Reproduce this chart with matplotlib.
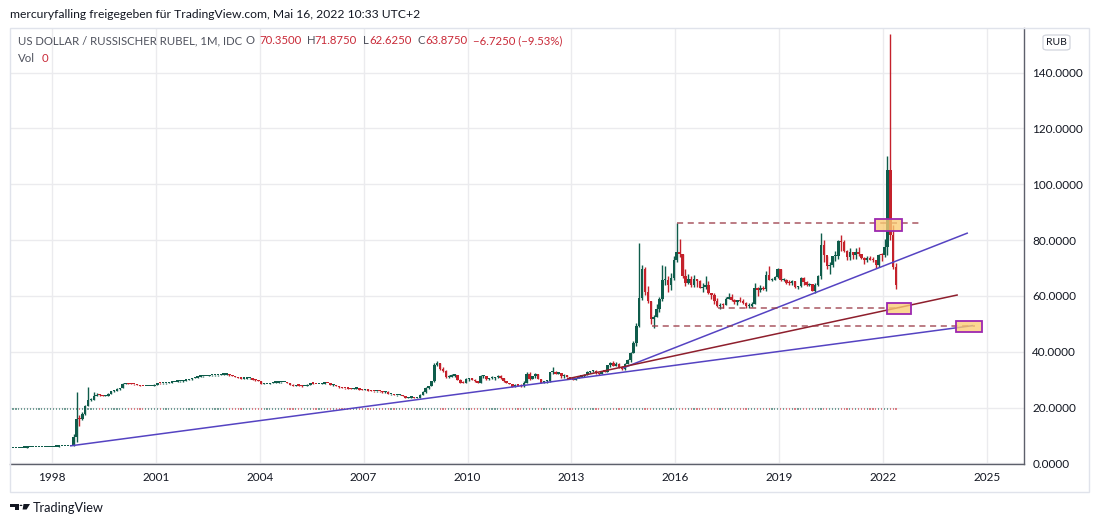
import matplotlib
matplotlib.use("Agg")
import matplotlib.pyplot as plt
from matplotlib.patches import Rectangle, FancyBboxPatch, Polygon, Circle
import numpy as np

# monthly USD/RUB candles (IDC), Sep 1996 .. May 2022
first_open = 5.35
close = [
    5.40, 5.46, 5.51, 5.56,                                              # 1996 Sep-Dec
    5.63, 5.67, 5.72, 5.76, 5.78, 5.78, 5.79, 5.82, 5.86, 5.89, 5.92, 5.96,  # 1997
    6.03, 6.07, 6.11, 6.13, 6.16, 6.20, 6.24, 9.6, 16.1, 16.0, 17.9, 20.7,   # 1998
    22.6, 22.9, 24.2, 24.7, 24.4, 24.2, 24.2, 24.8, 25.9, 26.0, 26.6, 27.0,  # 1999
    28.5, 28.7, 28.5, 28.4, 28.3, 28.1, 27.8, 27.7, 27.8, 27.8, 27.8, 28.2,  # 2000
    28.8, 28.7, 28.7, 28.8, 29.0, 29.1, 29.3, 29.4, 29.4, 29.7, 29.9, 30.1,  # 2001
    30.6, 30.8, 31.1, 31.2, 31.3, 31.4, 31.6, 31.6, 31.6, 31.7, 31.8, 31.8,  # 2002
    31.8, 31.6, 31.4, 31.0, 30.7, 30.4, 30.4, 30.5, 30.6, 30.0, 29.8, 29.5,  # 2003
    28.5, 28.5, 28.5, 28.8, 29.0, 29.0, 29.1, 29.2, 29.2, 28.8, 28.2, 27.7,  # 2004
    28.0, 27.9, 27.8, 27.8, 28.2, 28.7, 28.6, 28.5, 28.5, 28.6, 28.9, 28.8,  # 2005
    28.1, 28.1, 27.8, 27.3, 27.1, 26.9, 26.8, 26.7, 26.8, 26.8, 26.5, 26.3,  # 2006
    26.5, 26.1, 26.0, 25.8, 25.9, 25.8, 25.5, 25.7, 24.9, 24.9, 24.5, 24.5,  # 2007
    24.5, 24.0, 23.5, 23.6, 23.7, 23.4, 23.4, 24.6, 25.6, 26.9, 27.8, 29.4,  # 2008
    35.4, 36.1, 33.9, 33.3, 31.0, 31.1, 31.5, 31.6, 30.0, 29.0, 28.9, 30.2,  # 2009
    30.3, 30.0, 29.4, 29.0, 31.2, 31.2, 30.2, 30.5, 30.6, 30.9, 31.3, 30.5,  # 2010
    29.6, 28.9, 28.4, 27.5, 28.1, 27.9, 27.6, 28.9, 32.0, 30.4, 31.2, 32.2,  # 2011
    30.4, 28.9, 29.4, 29.4, 32.6, 32.8, 32.2, 32.3, 31.3, 31.6, 31.0, 30.5,  # 2012
    30.0, 30.7, 31.1, 31.2, 31.7, 32.8, 33.0, 33.2, 32.3, 32.1, 33.1, 32.9,  # 2013
    35.2, 35.9, 35.1, 35.7, 34.7, 33.8, 35.7, 37.0, 39.6, 43.0, 49.3, 59.4,  # 2014
    69.5, 61.5, 58.2, 51.6, 52.5, 55.5, 58.9, 65.6, 65.9, 63.8, 66.6, 73.0,  # 2015
    75.6, 74.9, 67.2, 64.6, 66.1, 64.0, 66.0, 65.3, 62.9, 63.3, 64.1, 61.2,  # 2016
    60.2, 58.1, 56.4, 56.9, 56.7, 59.1, 59.6, 58.6, 57.8, 58.4, 58.2, 57.6,  # 2017
    56.3, 56.3, 57.3, 63.0, 62.1, 62.8, 62.5, 67.6, 65.6, 65.8, 66.9, 69.5,  # 2018
    65.6, 65.8, 64.7, 64.6, 65.3, 63.2, 63.5, 66.6, 64.9, 63.9, 64.2, 61.9,  # 2019
    63.9, 67.1, 78.4, 74.7, 70.6, 71.2, 74.2, 74.3, 79.6, 79.3, 76.0, 74.0,  # 2020
    75.8, 74.7, 75.6, 75.0, 73.6, 73.0, 73.2, 73.0, 72.8, 71.0, 74.8, 74.7,  # 2021
    77.4, 105.0, 82.0, 70.35, 63.875,                                    # 2022 Jan-May
]
high = [
    5.42, 5.48, 5.53, 5.58,
    5.64, 5.68, 5.73, 5.77, 5.79, 5.79, 5.80, 5.83, 5.87, 5.90, 5.93, 5.97,
    6.04, 6.08, 6.12, 6.14, 6.17, 6.21, 6.25, 10.5, 25.5, 17.5, 18.5, 21.0,
    27.5, 23.5, 25.5, 25.2, 24.8, 24.5, 24.5, 25.1, 26.0, 26.3, 26.9, 27.2,
    28.9, 28.8, 28.8, 28.7, 28.6, 28.4, 28.2, 27.9, 27.9, 27.9, 27.9, 28.3,
    28.9, 28.9, 28.8, 28.9, 29.1, 29.2, 29.3, 29.5, 29.5, 29.8, 30.0, 30.2,
    30.7, 30.9, 31.1, 31.2, 31.4, 31.5, 31.7, 31.7, 31.7, 31.8, 31.9, 31.9,
    32.0, 31.9, 31.7, 31.4, 31.1, 30.9, 30.5, 30.6, 30.7, 30.6, 30.1, 29.9,
    29.5, 28.7, 28.6, 28.9, 29.1, 29.1, 29.2, 29.3, 29.3, 29.3, 28.8, 28.3,
    28.2, 28.1, 28.0, 27.9, 28.3, 28.8, 28.8, 28.6, 28.6, 28.8, 29.0, 29.0,
    28.8, 28.3, 28.2, 27.8, 27.3, 27.2, 27.0, 26.9, 26.9, 27.0, 26.9, 26.6,
    26.6, 26.6, 26.2, 26.0, 26.0, 26.0, 25.8, 25.9, 25.8, 25.0, 24.9, 24.7,
    24.8, 24.6, 24.1, 23.8, 23.9, 23.8, 23.6, 24.8, 26.0, 27.5, 27.9, 29.5,
    36.0, 36.7, 36.0, 34.5, 33.5, 31.8, 32.0, 31.9, 31.7, 30.1, 29.5, 30.6,
    30.6, 30.5, 30.1, 29.5, 31.6, 31.8, 31.4, 30.8, 31.3, 31.0, 31.6, 31.6,
    30.6, 29.7, 28.9, 28.5, 28.3, 28.2, 28.3, 29.5, 32.7, 32.8, 31.5, 32.3,
    32.2, 30.4, 29.6, 29.8, 32.9, 34.4, 33.0, 32.7, 32.5, 31.9, 31.7, 31.0,
    30.6, 30.8, 31.3, 31.7, 31.9, 33.0, 33.3, 33.4, 33.5, 32.3, 33.3, 33.2,
    35.3, 36.4, 36.7, 36.2, 35.9, 35.0, 35.9, 37.3, 39.8, 43.9, 50.3, 79.0,
    71.0, 70.5, 63.5, 58.3, 53.1, 57.0, 59.7, 71.2, 70.8, 67.0, 68.2, 74.5,
    86.0, 80.5, 75.0, 69.5, 67.7, 67.1, 67.6, 66.2, 65.7, 64.8, 67.0, 65.2,
    61.2, 61.0, 59.3, 57.5, 57.6, 59.6, 61.0, 60.8, 58.8, 58.6, 59.7, 58.9,
    57.8, 57.5, 57.9, 64.8, 63.3, 63.9, 63.5, 68.8, 70.8, 66.4, 67.3, 70.0,
    69.8, 66.3, 66.2, 65.6, 65.7, 65.2, 63.6, 66.9, 66.9, 65.4, 64.6, 64.3,
    64.5, 67.6, 82.4, 79.9, 74.2, 72.0, 74.5, 76.0, 79.9, 81.8, 80.0, 76.3,
    77.1, 75.9, 77.3, 77.5, 75.1, 74.0, 74.4, 74.3, 73.8, 73.0, 75.0, 75.3,
    80.4, 110.0, 154.0, 85.5, 71.875,
]
low = [
    5.34, 5.39, 5.45, 5.50,
    5.56, 5.62, 5.66, 5.71, 5.75, 5.77, 5.77, 5.78, 5.81, 5.85, 5.88, 5.91,
    5.96, 6.03, 6.07, 6.11, 6.13, 6.16, 6.20, 6.22, 7.8, 13.5, 15.5, 17.5,
    20.5, 22.3, 22.8, 24.0, 24.2, 24.1, 24.1, 24.2, 24.8, 25.6, 25.9, 26.5,
    27.0, 28.5, 28.4, 28.3, 28.1, 28.0, 27.7, 27.6, 27.6, 27.7, 27.7, 27.7,
    28.1, 28.6, 28.5, 28.6, 28.8, 28.9, 29.1, 29.2, 29.3, 29.3, 29.6, 29.8,
    30.0, 30.5, 30.7, 31.0, 31.1, 31.2, 31.4, 31.5, 31.5, 31.5, 31.6, 31.7,
    31.6, 31.5, 31.3, 30.9, 30.6, 30.3, 30.3, 30.3, 30.4, 29.9, 29.7, 29.4,
    28.5, 28.4, 28.4, 28.4, 28.8, 28.9, 29.0, 29.0, 29.1, 28.7, 28.1, 27.7,
    27.7, 27.7, 27.5, 27.6, 27.7, 28.2, 28.5, 28.3, 28.3, 28.4, 28.5, 28.7,
    28.0, 27.9, 27.7, 27.2, 26.9, 26.8, 26.7, 26.6, 26.6, 26.7, 26.4, 26.2,
    26.2, 26.1, 25.9, 25.7, 25.7, 25.7, 25.4, 25.4, 24.9, 24.6, 24.5, 24.2,
    24.4, 24.0, 23.4, 23.4, 23.5, 23.3, 23.1, 23.3, 24.5, 25.2, 26.6, 27.7,
    29.3, 35.0, 33.5, 32.7, 30.8, 30.6, 30.9, 31.0, 29.9, 28.7, 28.7, 28.7,
    29.4, 29.9, 29.3, 28.9, 28.7, 30.8, 30.0, 30.0, 30.4, 30.0, 30.7, 30.4,
    29.3, 28.8, 28.3, 27.3, 27.3, 27.6, 27.3, 27.5, 28.8, 29.9, 30.2, 30.6,
    30.1, 28.8, 28.8, 29.0, 29.2, 32.1, 32.0, 31.9, 30.8, 30.5, 30.9, 30.4,
    29.9, 30.0, 30.6, 31.0, 31.0, 31.7, 32.5, 32.8, 31.9, 31.8, 32.0, 32.6,
    32.7, 34.6, 35.0, 34.9, 34.3, 33.6, 33.6, 35.6, 36.2, 39.6, 42.0, 49.0,
    58.5, 60.2, 57.5, 49.9, 48.7, 52.5, 54.4, 58.3, 64.0, 61.5, 62.2, 65.6,
    72.1, 73.8, 66.6, 63.6, 64.2, 63.1, 63.3, 63.1, 62.9, 61.5, 62.5, 60.7,
    58.8, 57.3, 55.9, 55.4, 55.7, 56.7, 59.0, 58.2, 57.1, 56.8, 58.0, 57.0,
    55.6, 55.6, 56.2, 57.2, 60.1, 61.3, 62.2, 61.8, 65.6, 65.2, 65.6, 66.5,
    65.5, 65.4, 64.4, 64.1, 64.1, 62.9, 62.6, 63.2, 63.8, 63.4, 63.5, 61.8,
    61.0, 63.4, 66.1, 72.1, 69.8, 68.0, 70.3, 72.5, 73.3, 76.0, 75.6, 72.8,
    72.9, 73.4, 73.3, 74.3, 73.2, 71.5, 72.2, 72.8, 72.3, 69.9, 70.5, 72.4,
    74.0, 74.6, 80.0, 69.5, 62.625,
]
start_year, start_month = 1996, 9

# drawings on the chart (time in years, price in RUB)
trend_lines = [  # (x0, y0, x1, y1, color)
    (1998.52, 6.3, 2024.60, 49.4, "#5543c2"),
    (2014.49, 34.2, 2024.45, 82.6, "#5543c2"),
    (2012.87, 30.3, 2024.16, 60.4, "#8e1f2d"),
]
h_levels = [  # (x0, x1, price)
    (2016.06, 2023.12, 86.2),
    (2017.23, 2022.49, 55.6),
    (2015.33, 2024.65, 49.4),
]
boxes = [  # (x0, x1, y0, y1)
    (2021.77, 2022.54, 83.4, 87.5),
    (2022.12, 2022.80, 53.5, 57.4),
    (2024.10, 2024.87, 47.0, 51.2),
]
vol_level = 19.5

years = [1998, 2001, 2004, 2007, 2010, 2013, 2016, 2019, 2022, 2025]
prices = [0, 20, 40, 60, 80, 100, 120, 140]

GREEN = "#0f5c4b"
RED = "#c4212b"
TXT = "#131722"
FONT = "Lato"

W, H = 1100, 527


def fx(x):
    return x / W


def fy(y):
    return 1 - y / H


C = np.array(close)
Hh = np.array(high)
L = np.array(low)
O = np.array([first_open] + close[:-1])
n = len(C)
t = start_year + (start_month - 1 + np.arange(n) + 0.5) / 12.0

fig = plt.figure(figsize=(11, 5.27), dpi=100)
fig.patch.set_facecolor("white")
ax = fig.add_axes([fx(10), fy(464), fx(1024) - fx(10), fy(27.7) - fy(464)])
ax.set_xlim(1996.787, 2026.07)
ax.set_ylim(-0.18, 156.1)

ax.grid(True, color="#ebebee", lw=1, zorder=0)
for s in ["top", "left"]:
    ax.spines[s].set_visible(False)
for s in ["right", "bottom"]:
    ax.spines[s].set_color("#5d606b")
    ax.spines[s].set_linewidth(1)

up = C >= O
cols = np.where(up, GREEN, RED)

# zero volume row (faint dots)
ax.scatter(t, np.full(n, vol_level), s=0.7, marker="s", c=cols, lw=0, alpha=0.55, zorder=2)

ax.vlines(t, L, Hh, colors=cols, lw=1.0, zorder=3)
body = np.maximum(np.abs(C - O), 0.45)
ax.bar(t, body, bottom=np.minimum(O, C), width=0.072, color=cols, lw=0, zorder=3)

for x0, y0, x1, y1, c in trend_lines:
    ax.plot([x0, x1], [y0, y1], color=c, lw=1.1, zorder=4, solid_capstyle="butt")
for x0, x1, p in h_levels:
    ax.plot([x0, x1], [p, p], color="#9b3a46", lw=1.1, ls=(0, (4, 3)), alpha=0.85, zorder=4)
for x0, x1, y0, y1 in boxes:
    ax.add_patch(Rectangle((x0, y0), x1 - x0, y1 - y0, facecolor=(0.98, 0.80, 0.45, 0.78),
                           edgecolor="#9c27b0", lw=1.3, zorder=5))

ax.set_xticks(years)
ax.set_xticklabels([str(y) for y in years])
ax.yaxis.tick_right()
ax.set_yticks(prices)
ax.set_yticklabels([f"{p:.4f}" for p in prices])
ax.tick_params(axis="x", length=0, pad=6, labelsize=8.5, labelcolor=TXT)
ax.tick_params(axis="y", length=0, pad=6, labelsize=8.5, labelcolor=TXT)
for lab in ax.get_xticklabels() + ax.get_yticklabels():
    lab.set_family(FONT)

# outer frame
fig.add_artist(Rectangle((fx(10), fy(492)), fx(1089) - fx(10), fy(27.7) - fy(492),
                         transform=fig.transFigure, fill=False, edgecolor="#e0e3eb", lw=1))

renderer = fig.canvas.get_renderer()


def fit_text(x0, x1, y, s, color, size=None):
    tx = fig.text(fx(x0), fy(y), s, fontsize=10, color=color, va="center", ha="left", family=FONT)
    if size is None:
        w = tx.get_window_extent(renderer).width
        size = 10 * (x1 - x0) / w
    tx.set_fontsize(size)
    return size


fit_text(10, 418, 15, "mercuryfalling freigegeben für TradingView.com, Mai 16, 2022 10:33 UTC+2", TXT)

LEG = "#50535e"
LRED = "#c92a38"
sz = fit_text(18, 242, 41, "US DOLLAR / RUSSISCHER RUBEL, 1M, IDC", LEG)
legend_parts = [
    (246, "O", LEG), (259, "70.3500", LRED),
    (307, "H", LEG), (314, "71.8750", LRED),
    (363, "L", LEG), (369, "62.6250", LRED),
    (418, "C", LEG), (425, "63.8750", LRED),
    (473, "\u22126.7250 (\u22129.53%)", LRED),
]
for x, s, c in legend_parts:
    fit_text(x, None, 41, s, c, size=sz)
fit_text(18, None, 58, "Vol", LEG, size=sz)
fit_text(42, None, 58, "0", LRED, size=sz)

# currency badge
fig.add_artist(FancyBboxPatch((fx(1043), fy(50)), fx(1070) - fx(1043), fy(35) - fy(50),
                              boxstyle="round,pad=0,rounding_size=0.004", transform=fig.transFigure,
                              facecolor="white", edgecolor="#d1d4dc", lw=0.9))
fig.text(fx(1056.5), fy(42.5), "RUB", fontsize=7.5, color=TXT, ha="center", va="center", family=FONT)

# TradingView logo
logo = [
    [(10, 504), (18.5, 504), (18.5, 509.5), (14.8, 509.5), (14.8, 506.6), (10, 506.6)],
    [(23.5, 504), (30, 504), (26.6, 509.5), (22.6, 509.5)],
]
for pts in logo:
    fig.add_artist(Polygon([(fx(a), fy(b)) for a, b in pts], closed=True, transform=fig.transFigure,
                           facecolor=TXT, edgecolor="none"))
fig.add_artist(Circle((fx(21), fy(505.4)), 1.4 / W, transform=fig.transFigure, facecolor=TXT, edgecolor="none"))
fit_text(33, 104, 507.5, "TradingView", TXT)

fig.savefig("out.png", dpi=100)
